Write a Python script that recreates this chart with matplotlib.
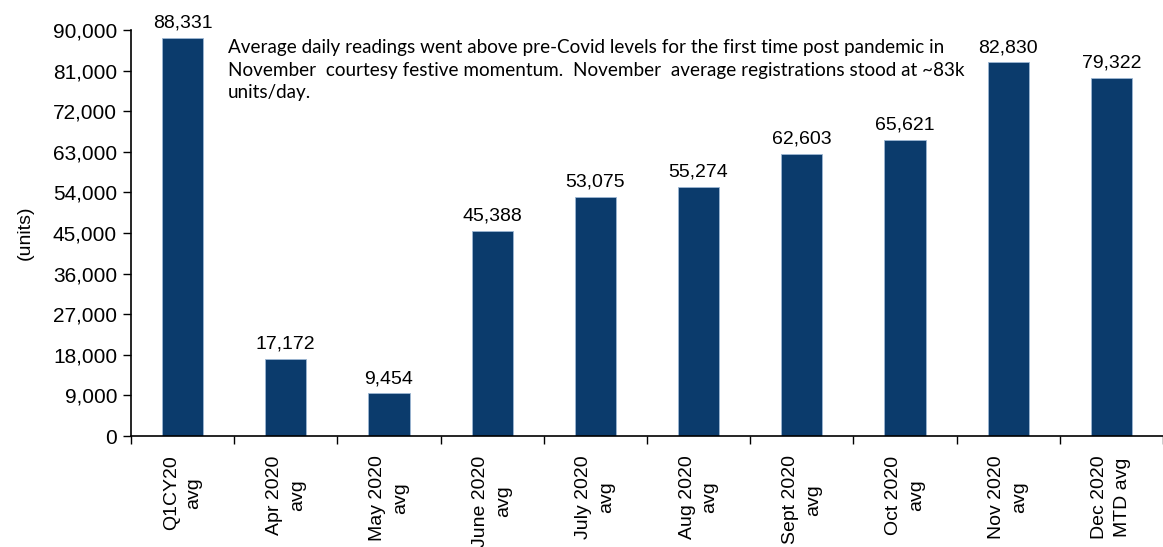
import matplotlib
matplotlib.use("Agg")
import matplotlib.pyplot as plt
import numpy as np

# ── Data ──────────────────────────────────────────────────────────────────────
categories = ["Q1CY20\navg", "Apr 2020\navg", "May 2020\navg", "June 2020\navg",
              "July 2020\navg", "Aug 2020\navg", "Sept 2020\navg", "Oct 2020\navg",
              "Nov 2020\navg", "Dec 2020\nMTD avg"]
values = [88331, 17172, 9454, 45388, 53075, 55274, 62603, 65621, 82830, 79322]
y_ticks = np.arange(0, 90001, 9000)
note = ("Average daily readings went above pre-Covid levels for the first time post pandemic in\n"
        "November  courtesy festive momentum.  November  average registrations stood at ~83k\n"
        "units/day.")

BAR = "#0B3B6C"

plt.rcParams["font.family"] = ["Liberation Sans", "DejaVu Sans"]

fig = plt.figure(figsize=(11.63, 5.47), dpi=100)
ax = fig.add_axes([131 / 1163, 1 - 436 / 547, 1 - 131 / 1163, (436 - 30) / 547])

x = np.arange(len(values))
ax.bar(x, values, width=0.40, color=BAR, edgecolor="#9DB7D3", linewidth=0.6)

for xi, v in zip(x, values):
    ax.text(xi, v + 1400, f"{v:,}", ha="center", va="bottom", fontsize=14)

ax.set_xlim(-0.5, len(values) - 0.5)
ax.set_ylim(0, 90000)
ax.set_yticks(y_ticks)
ax.set_yticklabels([f"{t:,}" for t in y_ticks], fontsize=15)
ax.set_ylabel("(units)", fontsize=14, labelpad=14)

# category labels centred on bars, ticks on the boundaries
ax.set_xticks(x)
ax.set_xticklabels(categories, rotation=90, fontsize=14, linespacing=1.45,
                   ha="center", va="top", multialignment="center")
ax.tick_params(axis="x", which="major", length=0, pad=14)
ax.set_xticks(np.arange(-0.5, len(values), 1.0), minor=True)
ax.tick_params(axis="x", which="minor", length=6, direction="out", width=1)
ax.tick_params(axis="y", length=6, direction="out", width=1, pad=4)

ax.spines[["top", "right"]].set_visible(False)
ax.spines[["left", "bottom"]].set_linewidth(1.2)

ax.text(0.44, 88000, note, ha="left", va="top", fontsize=13.6,
        family=["Lato", "DejaVu Sans"], linespacing=1.4)

fig.savefig("out.png", dpi=100)
